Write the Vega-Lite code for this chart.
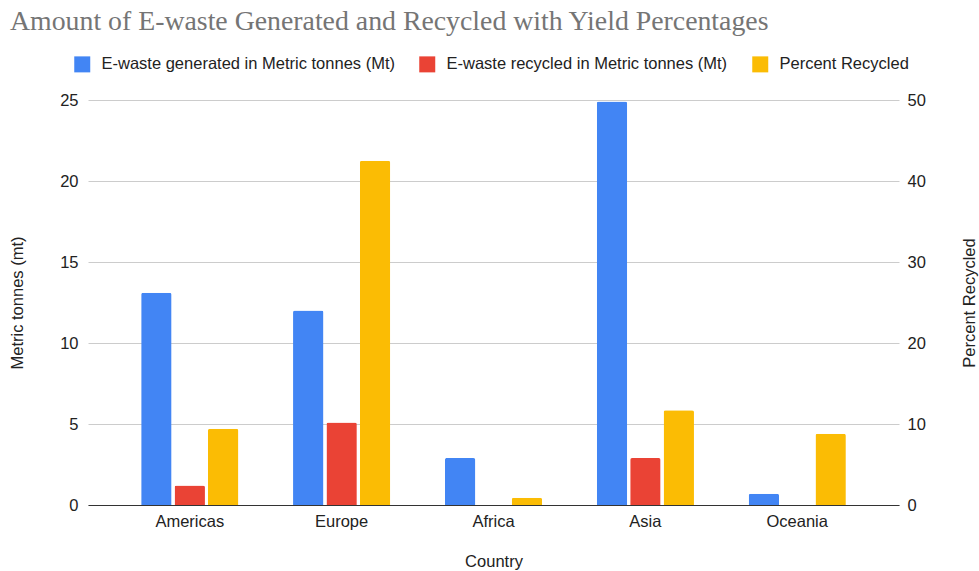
{
  "$schema": "https://vega.github.io/schema/vega-lite/v6.json",
  "autosize": "none",
  "width": 811,
  "height": 405,
  "padding": {"left": 88, "top": 100, "right": 80, "bottom": 66},
  "background": "white",
  "title": {
    "text": "Amount of E-waste Generated and Recycled with Yield Percentages",
    "anchor": "start",
    "frame": "group",
    "dx": -78,
    "dy": -16,
    "font": "Liberation Serif",
    "fontSize": 27.8,
    "fontWeight": "normal",
    "color": "#757575"
  },
  "config": {
    "view": {"stroke": null},
    "font": "Liberation Sans",
    "axis": {"labelFont": "Liberation Sans", "titleFont": "Liberation Sans", "labelColor": "#222222", "titleColor": "#222222", "titleFontWeight": "normal", "labelFontSize": 16.5, "titleFontSize": 16.5}
  },
  "data": {
    "values": [
      {"region": "Americas", "series": "E-waste generated in Metric tonnes (Mt)", "value": 13.1},
      {"region": "Americas", "series": "E-waste recycled in Metric tonnes (Mt)", "value": 1.2},
      {"region": "Americas", "series": "Percent Recycled", "value": 9.4},
      {"region": "Europe", "series": "E-waste generated in Metric tonnes (Mt)", "value": 12.0},
      {"region": "Europe", "series": "E-waste recycled in Metric tonnes (Mt)", "value": 5.1},
      {"region": "Europe", "series": "Percent Recycled", "value": 42.5},
      {"region": "Africa", "series": "E-waste generated in Metric tonnes (Mt)", "value": 2.9},
      {"region": "Africa", "series": "E-waste recycled in Metric tonnes (Mt)", "value": 0},
      {"region": "Africa", "series": "Percent Recycled", "value": 0.9},
      {"region": "Asia", "series": "E-waste generated in Metric tonnes (Mt)", "value": 24.9},
      {"region": "Asia", "series": "E-waste recycled in Metric tonnes (Mt)", "value": 2.9},
      {"region": "Asia", "series": "Percent Recycled", "value": 11.7},
      {"region": "Oceania", "series": "E-waste generated in Metric tonnes (Mt)", "value": 0.7},
      {"region": "Oceania", "series": "E-waste recycled in Metric tonnes (Mt)", "value": 0},
      {"region": "Oceania", "series": "Percent Recycled", "value": 8.8}
    ]
  },
  "encoding": {
    "x": {
      "field": "region",
      "type": "nominal",
      "sort": ["Americas", "Europe", "Africa", "Asia", "Oceania"],
      "scale": {"paddingInner": 0.36, "paddingOuter": 0.35},
      "axis": {
        "title": "Country",
        "labelAngle": 0,
        "ticks": false,
        "domainColor": "#333333",
        "labelPadding": 8,
        "titlePadding": 24
      }
    },
    "xOffset": {
      "field": "series",
      "type": "nominal",
      "scale": {
        "domain": ["E-waste generated in Metric tonnes (Mt)", "E-waste recycled in Metric tonnes (Mt)", "Percent Recycled"],
        "paddingInner": 0.09
      }
    },
    "color": {
      "field": "series",
      "type": "nominal",
      "scale": {
        "domain": ["E-waste generated in Metric tonnes (Mt)", "E-waste recycled in Metric tonnes (Mt)", "Percent Recycled"],
        "range": ["#4285F4", "#EA4335", "#FBBC04"]
      },
      "legend": {
        "title": null,
        "orient": "none",
        "direction": "horizontal",
        "columns": 3,
        "legendX": -14,
        "legendY": -44,
        "symbolType": "square",
        "symbolSize": 256,
        "symbolStrokeWidth": 0,
        "labelFont": "Liberation Sans",
        "labelFontSize": 16.5,
        "labelLimit": 400,
        "labelColor": "#222222",
        "labelOffset": 11,
        "columnPadding": 24
      }
    }
  },
  "layer": [
    {
      "transform": [{"filter": "datum.series !== 'Percent Recycled'"}],
      "mark": {"type": "bar", "cornerRadiusEnd": 2},
      "encoding": {
        "y": {
          "field": "value",
          "type": "quantitative",
          "scale": {"domain": [0, 25]},
          "axis": {
            "title": "Metric tonnes (mt)",
            "values": [0, 5, 10, 15, 20, 25],
            "domain": false,
            "ticks": false,
            "gridColor": "#cccccc",
            "labelPadding": 10,
            "titlePadding": 34
          }
        }
      }
    },
    {
      "transform": [{"filter": "datum.series === 'Percent Recycled'"}],
      "mark": {"type": "bar", "cornerRadiusEnd": 2},
      "encoding": {
        "y": {
          "field": "value",
          "type": "quantitative",
          "scale": {"domain": [0, 50]},
          "axis": {
            "title": "Percent Recycled",
            "titleAngle": -90,
            "titleBaseline": "bottom",
            "orient": "right",
            "values": [0, 10, 20, 30, 40, 50],
            "domain": false,
            "ticks": false,
            "grid": false,
            "labelPadding": 8,
            "titlePadding": 52
          }
        }
      }
    }
  ],
  "resolve": {"scale": {"y": "independent"}}
}
